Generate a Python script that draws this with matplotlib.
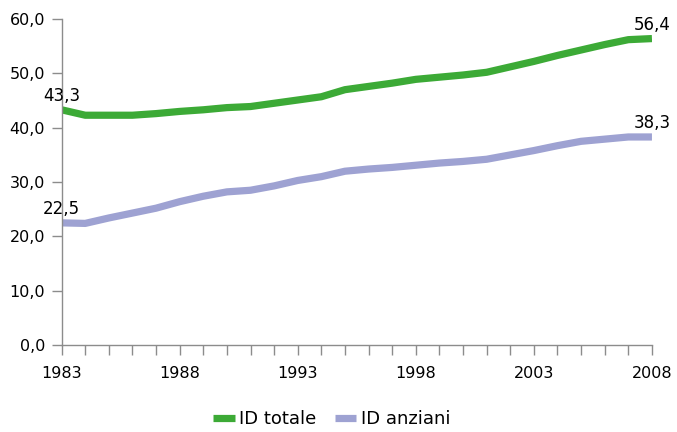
import numpy as np
import matplotlib
matplotlib.use('Agg')
import matplotlib.pyplot as plt
from matplotlib.ticker import FuncFormatter, MultipleLocator

plt.rc('font', family='DejaVu Sans')

anni = list(range(1983, 2009))
id_totale = [43.3, 42.3, 42.3, 42.3, 42.6, 43.0, 43.3, 43.7, 43.9, 44.5,
             45.1, 45.7, 47.0, 47.6, 48.2, 48.9, 49.3, 49.7, 50.2, 51.2,
             52.2, 53.3, 54.3, 55.3, 56.2, 56.4]
id_anziani = [22.5, 22.4, 23.4, 24.3, 25.2, 26.4, 27.4, 28.2, 28.5, 29.3,
              30.3, 31.0, 32.0, 32.4, 32.7, 33.1, 33.5, 33.8, 34.2, 35.0,
              35.8, 36.7, 37.5, 37.9, 38.3, 38.3]
etichette_x = ['1983', '1988', '1993', '1998', '2003', '2008']

verde = '#3caa36'
lilla = '#9ea2d2'
grigio = '#8c8c8c'
narrow = 'Liberation Sans Narrow'

fig = plt.figure(figsize=(6.77, 4.32), dpi=100)
ax = fig.add_axes([0.091, 0.201, 0.872, 0.755])

ax.plot(anni, id_totale, color=verde, lw=5.2, solid_capstyle='butt', label='ID totale')
ax.plot(anni, id_anziani, color=lilla, lw=5.2, solid_capstyle='butt', label='ID anziani')

# etichette valore al primo e all'ultimo anno
for serie in (id_totale, id_anziani):
    for i in (0, -1):
        ax.text(anni[i], serie[i] + 0.9, f'{serie[i]:.1f}'.replace('.', ','),
                ha='center', va='bottom', fontsize=12, color='black')

ax.set_xlim(1983, 2008)
ax.set_ylim(0, 60)
ax.yaxis.set_major_locator(MultipleLocator(10))
ax.yaxis.set_major_formatter(FuncFormatter(lambda v, p: f'{v:.1f}'.replace('.', ',')))
ax.set_xticks(anni)
ax.set_xticklabels([str(a) if str(a) in etichette_x else '' for a in anni])

for s in ('top', 'right'):
    ax.spines[s].set_visible(False)
for s in ('left', 'bottom'):
    ax.spines[s].set_color(grigio)
    ax.spines[s].set_linewidth(1.0)
ax.tick_params(axis='both', direction='out', length=7, width=1.0, color=grigio,
               labelsize=11.5, pad=5)
ax.tick_params(axis='x', pad=8)
for lab in ax.get_xticklabels() + ax.get_yticklabels():
    lab.set_fontfamily(narrow)

fig.legend(loc='lower center', bbox_to_anchor=(0.49, -0.028), ncol=2, frameon=False,
           fontsize=13, handlelength=1.2, handletextpad=0.25, columnspacing=1.0)

fig.savefig('out.png', dpi=100)
